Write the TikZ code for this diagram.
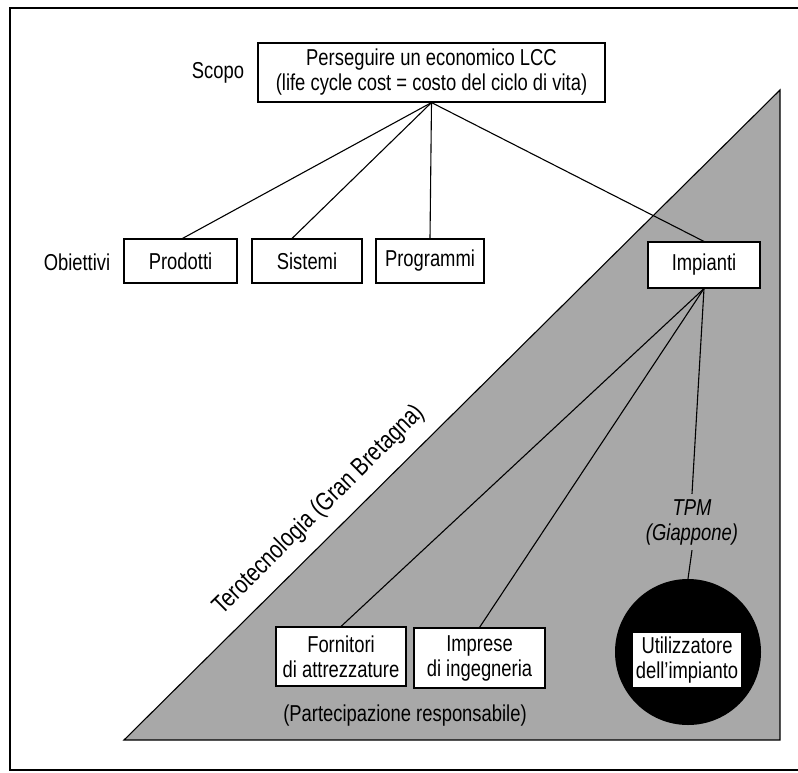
\documentclass[tikz,border=0pt]{standalone}
\usepackage{fontspec}
\setmainfont{Liberation Sans}[FakeStretch=0.8]
\usetikzlibrary{calc}
\begin{document}
\begin{tikzpicture}[x=1pt,y=-1pt,
  lbl/.style={font=\fontsize{23}{25}\selectfont, inner sep=0pt, align=center},
  box/.style={lbl, draw=black, line width=1.1pt, fill=white},
  link/.style={line width=1.1pt}]
\useasboundingbox (0,0) rectangle (798,772);
% frame
\draw[line width=1.3pt] (798,8) -- (10,8) -- (10,770) -- (798,770);
% triangle
\fill[black!34] (124,740) -- (780,740) -- (780,90) -- cycle;
\draw[line width=1.1pt] (124,740) -- (780,740) -- (780,90) -- cycle;
% top
\node[box, minimum width=347pt, minimum height=59pt] (scope) at (431.5,72.5)
  {Perseguire un economico LCC\\(life cycle cost = costo del ciclo di vita)};
\node[lbl] (scopolbl) at (218,73) {Scopo};
\node[lbl] (obiettivi) at (77,262) {Obiettivi};
\node[box, minimum width=113pt, minimum height=44pt] (prod) at (180.5,261) {Prodotti};
\node[box, minimum width=110pt, minimum height=44pt] (sist) at (307,261) {Sistemi};
\node[box, minimum width=108pt, minimum height=44pt] (prog) at (430,261) {Programmi};
\node[box, minimum width=112pt, minimum height=46pt] (imp) at (704,265) {Impianti};
\draw[link] (scope.south) -- ([xshift=2pt]prod.north);
\draw[link] (scope.south) -- ([xshift=-15pt]sist.north);
\draw[link] (scope.south) -- (prog.north);
\draw[link] (scope.south) -- (imp.north);
% bottom
\node[box, minimum width=130pt, minimum height=59pt] (forn) at (341,656.5) {Fornitori\\di attrezzature};
\node[box, minimum width=131pt, minimum height=60pt] (impr) at (479.5,658) {Imprese\\di ingegneria};
\node[circle, fill=black, minimum size=146pt, inner sep=0pt] (circ) at (688,652) {};
\node[box, minimum width=110pt, minimum height=56pt] (util) at (687,660) {Utilizzatore\\dell'impianto};
\node[lbl, font=\fontsize{23}{25}\selectfont\itshape, minimum height=56pt] (tpm) at (692,522) {TPM\\(Giappone)};
\node[lbl] (part) at (405,716) {(Partecipazione responsabile)};
\draw[link] (imp.south) -- (forn.north);
\draw[link] (imp.south) -- (impr.north);
\draw[link] (imp.south) -- (tpm.north);
\draw[link] (tpm.south) -- (circ.north);
% rotated label
\node[lbl, font=\fontsize{25.5}{27}\selectfont, rotate=44.7] (tero) at (319,510) {Terotecnologia (Gran Bretagna)};
\end{tikzpicture}
\end{document}
